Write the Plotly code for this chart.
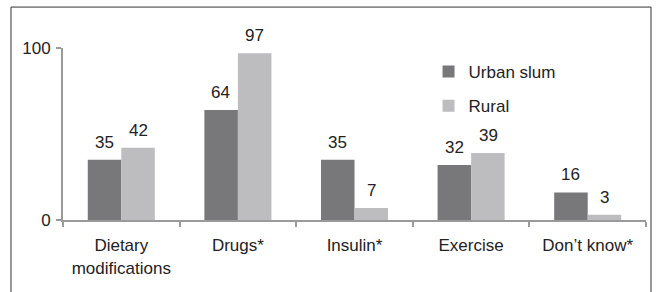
import plotly.graph_objects as go

categories = ["Dietary<br>modifications", "Drugs*", "Insulin*", "Exercise", "Don\u2019t know*"]
urban_slum = [35, 64, 35, 32, 16]
rural = [42, 97, 7, 39, 3]
y_ticks = [0, 100]

DARK = "#78787b"
LIGHT = "#bdbdbf"
TXT = "#222222"
FONT = "Liberation Sans, Arial, sans-serif"
FS = 17

fig = go.Figure()
fig.add_trace(go.Bar(name="Urban slum", x=categories, y=urban_slum, marker_color=DARK,
                     marker_line_width=0, legendgroup="a"))
fig.add_trace(go.Bar(name="Rural", x=categories, y=rural, marker_color=LIGHT,
                     marker_line_width=0, legendgroup="b"))

ann = []
for c, u, r in zip(categories, urban_slum, rural):
    ann.append(dict(x=c, y=u, text=str(u), showarrow=False, xshift=-17, yshift=6,
                    yanchor="bottom", font=dict(size=FS, color=TXT, family=FONT)))
    ann.append(dict(x=c, y=r, text=str(r), showarrow=False, xshift=17, yshift=6,
                    yanchor="bottom", font=dict(size=FS, color=TXT, family=FONT)))

fig.update_layout(
    width=657, height=292,
    margin=dict(l=63, r=11, t=48, b=72, autoexpand=False),
    paper_bgcolor="white", plot_bgcolor="white",
    barmode="group", bargap=0.425, bargroupgap=0,
    font=dict(family=FONT, size=FS, color=TXT),
    showlegend=True,
    legend=dict(x=0.627, y=0.965, xanchor="left", yanchor="top", bgcolor="rgba(0,0,0,0)",
                font=dict(size=FS, color=TXT), tracegroupgap=9, itemwidth=30),
    annotations=ann,
    xaxis=dict(showline=True, linecolor="#9a9a9a", linewidth=2, ticks="outside",
               tickson="boundaries", ticklen=5, tickcolor="#9a9a9a", tickwidth=2,
               ticklabelstandoff=9,
               showgrid=False, automargin=False, tickfont=dict(size=FS, color=TXT)),
    yaxis=dict(range=[0, 100], tickvals=y_ticks, showline=True, linecolor="#9a9a9a",
               linewidth=2, ticks="outside", ticklen=5, tickcolor="#9a9a9a", tickwidth=2,
               ticklabelstandoff=2,
               showgrid=False, zeroline=False, automargin=False,
               tickfont=dict(size=FS, color=TXT)),
    shapes=[
        dict(type="line", xref="paper", yref="paper", x0=-0.0892, x1=-0.0892, y0=-0.6, y1=1.238,
             line=dict(color="#333333", width=1)),
        dict(type="line", xref="paper", yref="paper", x0=-0.0892, x1=1.0086, y0=1.238, y1=1.238,
             line=dict(color="#333333", width=1)),
        dict(type="line", xref="paper", yref="paper", x0=1.0086, x1=1.0086, y0=-0.6, y1=1.238,
             line=dict(color="#333333", width=1)),
    ],
)

fig.write_html("out.html", config={"displayModeBar": False})

with open("out.html", "r", encoding="utf-8") as f:
    html = f.read()
html = html.replace("<head>", "<head><style>html,body{margin:0;padding:0;overflow:hidden;}</style>", 1)
with open("out.html", "w", encoding="utf-8") as f:
    f.write(html)
